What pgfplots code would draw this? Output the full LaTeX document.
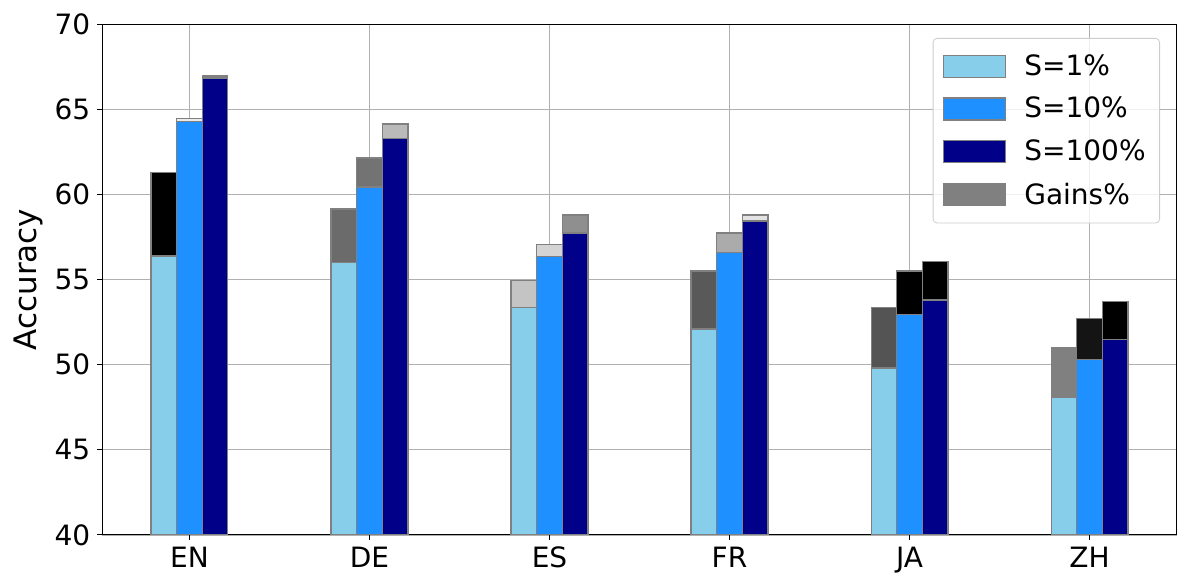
\documentclass[border=0pt]{standalone}
\usepackage{pgfplots}
\pgfplotsset{compat=1.18}
\usepackage{fontspec}
\setmainfont{DejaVu Sans}
\definecolor{cA}{HTML}{87CEEB}
\definecolor{cB}{HTML}{1E90FF}
\definecolor{cC}{HTML}{000088}
\definecolor{edge}{HTML}{808080}
\definecolor{gridc}{HTML}{B0B0B0}
\definecolor{legc}{HTML}{CCCCCC}
\begin{document}
\begin{tikzpicture}
\pgfplotsset{
  gbar/.style={ybar, bar width=0.142, bar shift=0, draw=edge, line width=0.7pt, forget plot, fill=#1},
}
\begin{axis}[
  at={(0,0)}, anchor=south west,
  scale only axis, width=537.2pt, height=255.35pt,
  xmin=-0.484, xmax=5.484, ymin=40, ymax=70,
  xtick={0,1,2,3,4,5}, xticklabels={EN,DE,ES,FR,JA,ZH},
  ytick={40,45,50,55,60,65,70},
  grid=major, grid style={color=gridc, line width=0.55pt},
  tick align=outside, major tick length=2.5pt,
  xtick pos=lower, ytick pos=left,
  tick style={black, line width=0.5pt},
  axis line style={line width=0.5pt},
  ticklabel style={font=\fontsize{14}{16}\selectfont},
  /pgf/number format/assume math mode=true,
  ylabel={Accuracy},
  ylabel style={font=\fontsize{15.5}{18}\selectfont, at={(axis description cs:-0.0549,0.5)}, anchor=south, inner sep=0pt},
  legend style={at={(0.98446,0.97317)}, anchor=north east, draw=legc, rounded corners=2pt,
    fill=white, fill opacity=0.8, text opacity=1, font=\fontsize{14}{16}\selectfont,
    inner xsep=5pt, inner ysep=6pt, row sep=5.5pt, column sep=7pt},
  legend cell align=left,
  legend image code/.code={\draw[#1, sharp corners, line width=0.6pt, fill opacity=1, draw opacity=1] (0pt,-5.5pt) rectangle (31pt,5.5pt);},
]
% legend
\addlegendimage{fill=cA, draw=edge}
\addlegendentry{S=1\%}
\addlegendimage{fill=cB, draw=edge}
\addlegendentry{S=10\%}
\addlegendimage{fill=cC, draw=edge}
\addlegendentry{S=100\%}
\addlegendimage{fill=edge, draw=edge}
\addlegendentry{Gains\%}

% gain bars (top = value after gain)
% EN
\addplot[gbar={black}]          coordinates {(-0.142,61.3)};
\addplot[gbar={black!8}]        coordinates {(0,64.45)};
\addplot[gbar={black!50}]       coordinates {(0.142,67.0)};
% DE
\addplot[gbar={black!58}]       coordinates {(0.858,59.15)};
\addplot[gbar={black!55}]       coordinates {(1,62.15)};
\addplot[gbar={black!27}]       coordinates {(1.142,64.15)};
% ES
\addplot[gbar={black!23}]       coordinates {(1.858,54.95)};
\addplot[gbar={black!17}]       coordinates {(2,57.05)};
\addplot[gbar={black!44}]       coordinates {(2.142,58.8)};
% FR
\addplot[gbar={black!65}]       coordinates {(2.858,55.5)};
\addplot[gbar={black!33}]       coordinates {(3,57.75)};
\addplot[gbar={black!11}]       coordinates {(3.142,58.8)};
% JA
\addplot[gbar={black!67}]       coordinates {(3.858,53.35)};
\addplot[gbar={black}]          coordinates {(4,55.5)};
\addplot[gbar={black}]          coordinates {(4.142,56.05)};
% ZH
\addplot[gbar={black!50}]       coordinates {(4.858,51.0)};
\addplot[gbar={black!92}]       coordinates {(5,52.7)};
\addplot[gbar={black}]          coordinates {(5.142,53.7)};

% base bars
\addplot[gbar={cA}] coordinates {(-0.142,56.4) (0.858,56.0) (1.858,53.35) (2.858,52.1) (3.858,49.8) (4.858,48.1)};
\addplot[gbar={cB}] coordinates {(0,64.3) (1,60.45) (2,56.35) (3,56.6) (4,52.95) (5,50.3)};
\addplot[gbar={cC}] coordinates {(0.142,66.85) (1.142,63.3) (2.142,57.75) (3.142,58.45) (4.142,53.8) (5.142,51.5)};
\end{axis}
\pgfresetboundingbox
\path[use as bounding box] (-51.15pt,-26.5pt) rectangle (542.85pt,267.5pt);
\end{tikzpicture}
\end{document}
